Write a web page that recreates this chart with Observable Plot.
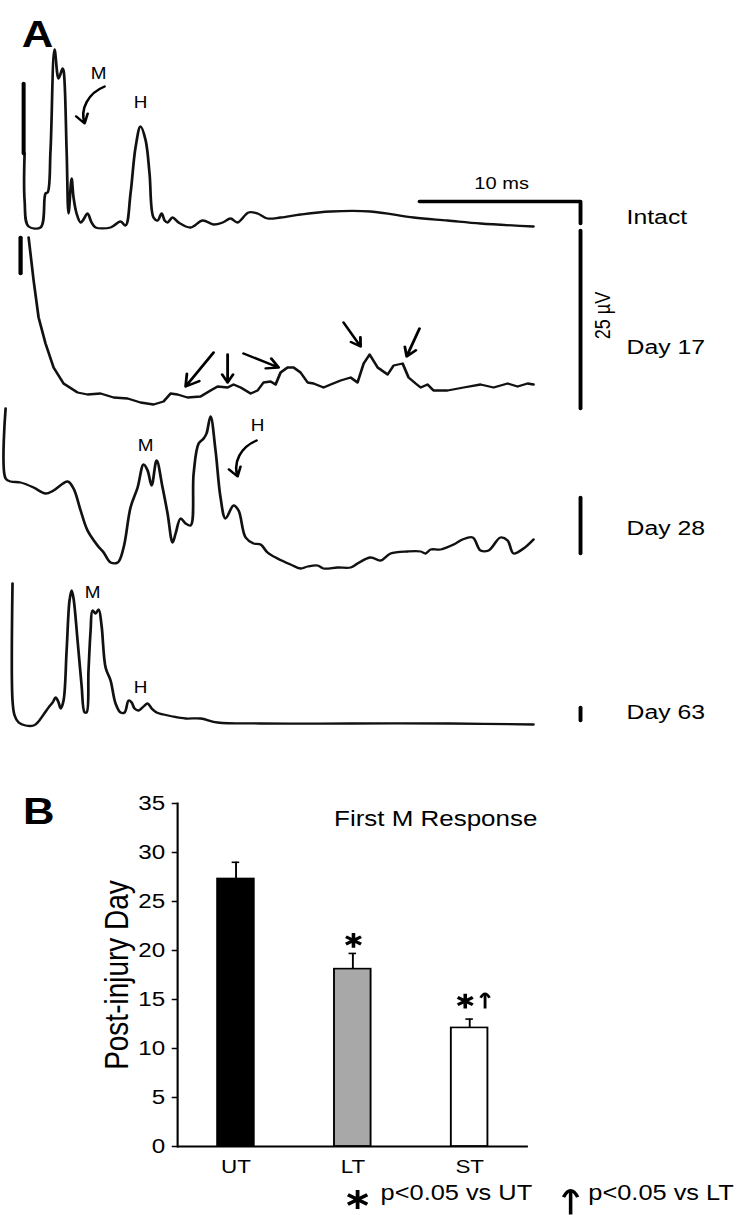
<!DOCTYPE html>
<html><head><meta charset="utf-8">
<script src="https://cdn.jsdelivr.net/npm/d3@7"></script>
<script src="https://cdn.jsdelivr.net/npm/@observablehq/plot@0.6"></script>
<style>
html,body{margin:0;padding:0;background:#fff;}
#fig{width:627px;transform:scaleX(1.1802);transform-origin:0 0;}
#fig svg{display:block;}
</style></head><body><div id="fig"></div>
<script>
// ---------- Panel A data: time (ms) and amplitude (display units) ----------
const intactArtifactT = [0.81, 0.81];
const intactArtifactA = [144, 74];
const intactT = [0.87,0.87,1.12,1.86,2.17,2.30,2.48,2.73,2.98,3.23,3.29,3.48,3.60,3.79,3.91,4.10,4.35,4.53,4.78,5.03,5.28,6.21,6.83,7.14,7.45,7.76,8.07,8.39,8.63,8.88,9.13,9.38,9.57,9.75,10.06,10.43,11.18,11.93,12.61,13.17,13.66,14.10,14.78,15.34,15.96,16.77,18.01,19.88,22.36,25.03,27.14,29.19,32.48];
const intactA = [74,27,1,0,34,35,77,178,149,159,157,77,14,49,30,14,5,8,14,5,0,0,6,2,34,80,101,87,54,10,7,14,7,5,10,5,0,7,3,5,9,5,15,14,9,10,13,16,16,10,7,4,1];

const day17ArtifactT = [0.62, 0.62];
const day17ArtifactA = [158, 122];
const day17T = [1.12,1.43,1.74,2.17,2.67,3.29,4.16,4.78,5.59,6.40,7.27,8.07,8.88,9.50,9.94,10.37,10.99,11.80,12.42,12.86,13.48,13.85,14.29,14.91,15.34,15.71,16.15,16.46,16.77,17.20,17.58,18.01,18.45,18.82,19.44,19.88,20.50,21.12,21.55,21.93,22.30,22.80,23.42,23.79,24.35,24.72,25.16,25.47,25.90,26.27,27.14,28.14,29.19,30.00,30.87,31.49,32.11,32.48];
const day17A = [158,115,78,52,28,12,3,1,2,-2,-3,-7,-9,-6,2,1,-2,-1,5,9,8,11,8,2,5,13,14,11,23,28,28,23,13,12,8,11,15,18,13,32,41,28,21,30,32,18,12,8,11,5,5,8,11,8,12,9,12,11];

const day28T = [-0.31,-0.31,0,0.62,1.43,2.17,2.67,3.54,3.91,4.35,4.78,5.40,5.78,6.21,6.65,7.02,7.45,7.89,8.26,8.51,8.76,9.07,9.44,9.75,10.06,10.25,10.56,10.87,11.18,11.37,11.68,11.99,12.17,12.42,12.73,13.04,13.35,13.85,14.16,14.60,15.09,15.53,15.96,16.58,17.39,18.01,18.45,19.07,19.44,20.31,21.12,21.55,22.36,22.98,23.60,24.66,25.47,25.78,26.09,26.71,27.52,28.07,28.70,29.19,29.69,30.43,30.87,31.24,31.86,32.48];
const day28A = [72,2,-1,-2,-7,-13,-10,-1,-8,-30,-50,-65,-72,-82,-82,-67,-27,-7,16,10,-5,20,-7,-33,-62,-53,-38,-43,-45,7,37,42,47,64,30,-17,-38,-25,-30,-57,-63,-64,-72,-78,-84,-88,-86,-85,-88,-87,-87,-83,-77,-80,-73,-71,-71,-73,-69,-69,-64,-59,-57,-70,-70,-57,-60,-73,-68,-59];

const day63T = [0.12,0.12,0.25,0.50,0.93,1.43,1.68,2.05,2.36,2.61,2.80,2.98,3.11,3.29,3.48,3.66,3.79,3.91,4.16,4.41,4.60,4.72,4.84,4.97,5.09,5.28,5.47,5.65,5.90,6.21,6.52,6.83,7.08,7.33,7.52,7.70,7.95,8.26,8.51,8.76,9.07,9.50,10.06,10.87,11.80,12.86,15.53,21.12,27.33,32.48];
const day63A = [140,23,8,1,-2,-2,1,9,16,21,26,21,15,23,73,123,133,125,83,38,11,11,53,93,113,110,114,98,56,43,20,11,11,23,21,15,13,17,20,15,11,9,7,5,5,1,0,0,0,-1];

const traceNames = ["Intact", "Day 17", "Day 28", "Day 63"];
const scaleBarMs = 10;
const scaleBarUnit = "25 µV";

// ---------- Panel B data ----------
const groups = ["UT", "LT", "ST"];
const means = [27.3, 18.1, 12.1];
const sems = [1.7, 1.6, 0.9];
const fills = ["#000000", "#a8a8a8", "#ffffff"];
const yTicks = [0, 5, 10, 15, 20, 25, 30, 35];
const starGroups = ["LT", "ST"];
const daggerGroups = ["ST"];
const legendTexts = ["p<0.05 vs UT", "p<0.05 vs LT"];

// ---------- layout ----------
const W = 627;
const FONT = "'Liberation Sans', Arial, Helvetica, sans-serif";
const off = {intact: 513, d17: 345, d28: 260, d63: 17};   // vertical offsets of traces
const labelT = 38.26;
const barT = 35.4;

const rec = (T, A, o) => T.map((t, i) => ({t, y: o + A[i]}));
const intact = rec(intactT, intactA, off.intact);
const intactArt = rec(intactArtifactT, intactArtifactA, off.intact);
const d17 = rec(day17T, day17A, off.d17);
const d17Art = rec(day17ArtifactT, day17ArtifactA, off.d17);
const d28 = rec(day28T, day28A, off.d28);
const d63 = rec(day63T, day63A, off.d63);

const bar10 = [{t: barT - scaleBarMs, y: off.intact + 26}, {t: barT, y: off.intact + 26}, {t: barT, y: off.intact + 4}];
const barD17 = [{t: barT, y: off.d17 + 165}, {t: barT, y: off.d17 - 13}];
const barD28 = [{t: barT, y: off.d28 - 17}, {t: barT, y: off.d28 - 73}];
const barD63 = [{t: barT, y: off.d63 + 16}, {t: barT, y: off.d63 + 3}];

const nameLabels = traceNames.map((name, i) => ({name, t: labelT, y: [off.intact + 10, off.d17 + 48, off.d28 - 48, off.d63 + 11][i]}));
const mhLabels = [
  {s: "M", t: 5.47, y: off.intact + 154}, {s: "H", t: 8.07, y: off.intact + 125},
  {s: "M", t: 8.39, y: off.d28 + 35}, {s: "H", t: 15.34, y: off.d28 + 55},
  {s: "M", t: 5.09, y: off.d63 + 131}, {s: "H", t: 8.07, y: off.d63 + 36}
];
const curvedArrows = [
  {t1: 5.84, y1: off.intact + 141, t2: 4.60, y2: off.intact + 104},
  {t1: 15.28, y1: off.d28 + 40, t2: 14.10, y2: off.d28 + 4}
];
const straightArrows = [
  {t1: 12.61, y1: off.d17 + 43, t2: 10.87, y2: off.d17 + 9},
  {t1: 13.48, y1: off.d17 + 41, t2: 13.48, y2: off.d17 + 13},
  {t1: 14.47, y1: off.d17 + 42, t2: 16.65, y2: off.d17 + 28},
  {t1: 20.68, y1: off.d17 + 73, t2: 21.74, y2: off.d17 + 49},
  {t1: 25.40, y1: off.d17 + 67, t2: 24.60, y2: off.d17 + 39}
];

const lineOpt = {x: "t", y: "y", stroke: "#111", strokeWidth: 2.3, curve: "catmull-rom", strokeLinejoin: "round"};

const plotA = Plot.plot({
  width: W, height: 740, margin: 0,
  x: {domain: [-10 / 16.1, 730 / 16.1], axis: null},
  y: {domain: [0, 740], axis: null},
  style: {fontFamily: FONT, background: "white", color: "black"},
  marks: [
    Plot.line(intact, lineOpt),
    Plot.line(intactArt, {x: "t", y: "y", strokeWidth: 3.4}),
    Plot.line(d17, {...lineOpt, curve: "linear"}),
    Plot.line(d17Art, {x: "t", y: "y", strokeWidth: 3.6}),
    Plot.line(d28, lineOpt),
    Plot.line(d63, lineOpt),
    Plot.line(bar10, {x: "t", y: "y", strokeWidth: 3.3}),
    Plot.line(barD17, {x: "t", y: "y", strokeWidth: 3.3}),
    Plot.line(barD28, {x: "t", y: "y", strokeWidth: 3.3}),
    Plot.line(barD63, {x: "t", y: "y", strokeWidth: 3.3}),
    Plot.arrow(curvedArrows, {x1: "t1", y1: "y1", x2: "t2", y2: "y2", bend: -40, headLength: 7, strokeWidth: 2.2}),
    Plot.arrow(straightArrows, {x1: "t1", y1: "y1", x2: "t2", y2: "y2", headLength: 8, strokeWidth: 2.4}),
    Plot.text(nameLabels, {x: "t", y: "y", text: "name", textAnchor: "start", fontSize: 21}),
    Plot.text(mhLabels, {x: "t", y: "y", text: "s", fontSize: 16}),
    Plot.text([scaleBarMs + " ms"], {x: [30.5], y: [off.intact + 44], fontSize: 17}),
    Plot.text([scaleBarUnit], {x: [36.83], y: [off.d17 + 80], rotate: -90, fontSize: 18}),
    Plot.text(["A"], {frameAnchor: "top-left", dx: 18, dy: 20, fontSize: 37, fontWeight: "bold"})
  ]
});

// dagger-like "arrow" symbol: a stem with an arch on top
const daggerSymbol = {
  draw(ctx, size) {
    const r = Math.sqrt(size / Math.PI);
    ctx.moveTo(0, r); ctx.lineTo(0, -r);
    ctx.moveTo(-0.5 * r, -0.45 * r);
    ctx.quadraticCurveTo(0, -1.55 * r, 0.5 * r, -0.45 * r);
  }
};

const barData = groups.map((g, i) => ({group: g, mean: means[i], sem: sems[i], fill: fills[i], top: means[i] + sems[i]}));
const starLT = barData.filter(d => starGroups.includes(d.group) && d.group === "LT");
const starST = barData.filter(d => starGroups.includes(d.group) && d.group === "ST");
const daggers = barData.filter(d => daggerGroups.includes(d.group));

const plotB = Plot.plot({
  width: W, height: 475, marginTop: 63, marginBottom: 69, marginLeft: 150, marginRight: 179.7,
  x: {domain: groups, paddingInner: 0.683, paddingOuter: 0.342, axis: null},
  y: {domain: [0, 35], axis: null},
  color: {type: "identity"},
  style: {fontFamily: FONT, fontSize: "20px", background: "white", color: "black"},
  marks: [
    Plot.ruleX(barData, {x: "group", y1: "mean", y2: "top", strokeWidth: 1.6}),
    Plot.tickY(barData, {x: "group", y: "top", insetLeft: 12.3, insetRight: 12.3, strokeWidth: 1.6}),
    Plot.barY(barData, {x: "group", y: "mean", fill: "fill", stroke: "black", strokeWidth: 1.6}),
    Plot.ruleY([0], {strokeWidth: 1.8}),
    Plot.frame({anchor: "left", strokeWidth: 1.8}),
    Plot.axisY(yTicks, {tickSize: 4.5, tickPadding: 6, fontSize: 20.5, label: null, strokeWidth: 1.5}),
    Plot.axisX({tickSize: 0, tickPadding: 13, fontSize: 19, label: null}),
    Plot.text(["Post-injury Day"], {frameAnchor: "left", textAnchor: "middle", rotate: -90, dx: -51, fontSize: 28}),
    Plot.text(["First M Response"], {frameAnchor: "top-right", textAnchor: "end", dx: 7.5, dy: 7, fontSize: 22}),
    Plot.dot(starLT, {x: "group", y: "top", dy: -13, dx: 0.5, symbol: "asterisk", r: 7, stroke: "black", strokeWidth: 3}),
    Plot.dot(starST, {x: "group", y: "top", dy: -18, dx: -3.8, symbol: "asterisk", r: 7, stroke: "black", strokeWidth: 3}),
    Plot.dot(daggers, {x: "group", y: "top", dy: -18, dx: 13, symbol: daggerSymbol, r: 7.5, fill: "none", stroke: "black", strokeWidth: 2.4}),
    Plot.dot([0], {frameAnchor: "bottom-left", dx: 152.5, dy: 53, symbol: "asterisk", r: 9, stroke: "black", strokeWidth: 3.2}),
    Plot.text([legendTexts[0]], {frameAnchor: "bottom-left", dx: 172, dy: 53, textAnchor: "start", fontSize: 21.5}),
    Plot.dot([0], {frameAnchor: "bottom-left", dx: 333, dy: 56, symbol: daggerSymbol, r: 12, fill: "none", stroke: "black", strokeWidth: 3}),
    Plot.text([legendTexts[1]], {frameAnchor: "bottom-left", dx: 348, dy: 53, textAnchor: "start", fontSize: 21.5}),
    Plot.text(["B"], {frameAnchor: "top-left", dx: -131, dy: -6, fontSize: 37, fontWeight: "bold"})
  ]
});

const fig = document.getElementById("fig");
fig.appendChild(plotA);
fig.appendChild(plotB);
</script>
</body></html>
